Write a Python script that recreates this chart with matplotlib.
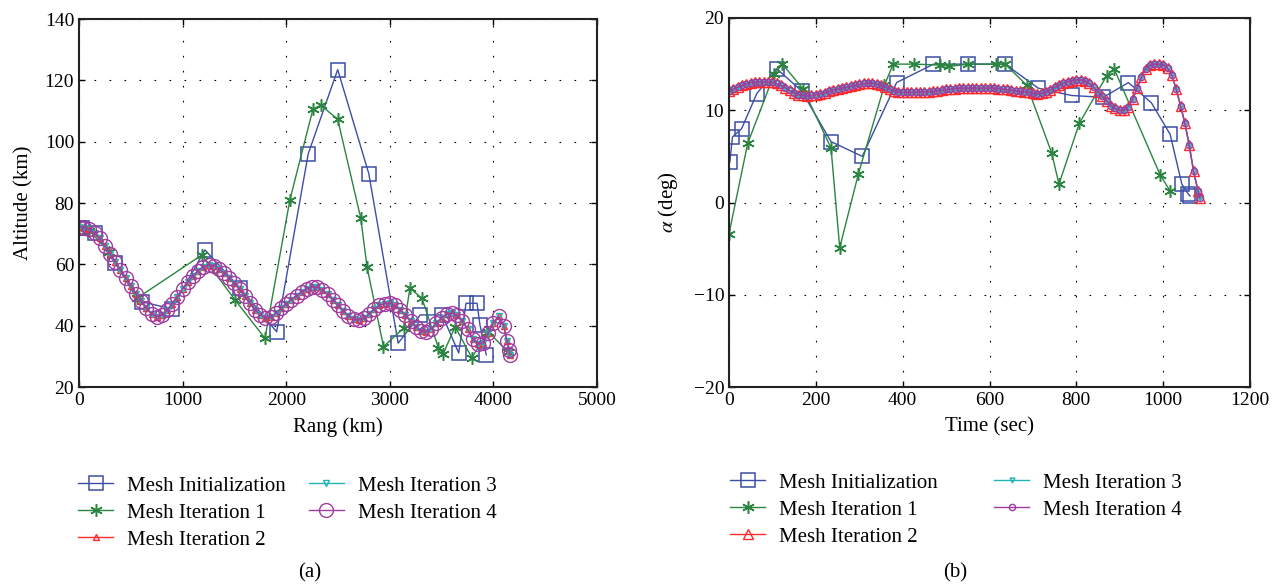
import matplotlib.pyplot as plt

plt.rcParams['font.family'] = ['Liberation Serif', 'DejaVu Serif']
plt.rcParams['mathtext.fontset'] = 'stix'

# ---- (a) altitude vs range ----
rng_init = [0, 26, 154, 347, 605, 895, 1216, 1554, 1908, 2213, 2497, 2797,
            3081, 3293, 3506, 3665, 3736, 3842, 3870, 3931]
alt_init = [72, 71.7, 70.2, 60.4, 47.8, 45.5, 64.7, 52.3, 38.0, 96.1, 123.5, 89.6,
            34.3, 43.5, 43.5, 31.1, 47.3, 47.3, 40.3, 30.5]

rng_it1 = [0, 100, 290, 557, 1184, 1506, 1795, 2036, 2259, 2337, 2497, 2720, 2780,
           2939, 3134, 3194, 3311, 3470, 3517, 3630, 3791, 3950, 4140]
alt_it1 = [72, 71, 64, 48.9, 63.0, 48.4, 35.9, 81.1, 110.7, 111.8, 107.3, 75.0, 59.2,
           33.2, 39.2, 52.2, 48.9, 32.7, 30.9, 39.7, 29.6, 38.0, 31.5]

rng_fine = [0, 50, 100, 150, 200, 250, 300, 350, 400, 450, 500, 550, 600, 650, 700,
            750, 800, 850, 900, 950, 1000, 1050, 1100, 1150, 1200, 1250, 1300, 1350,
            1400, 1450, 1500, 1550, 1600, 1650, 1700, 1750, 1800, 1850, 1900, 1950,
            2000, 2050, 2100, 2150, 2200, 2250, 2300, 2350, 2400, 2450, 2500, 2550,
            2600, 2650, 2700, 2750, 2800, 2850, 2900, 2950, 3000, 3050, 3100, 3150,
            3200, 3250, 3300, 3350, 3400, 3450, 3500, 3550, 3600, 3650, 3700, 3750,
            3800, 3850, 3900, 3950, 4000, 4050, 4100, 4130, 4150, 4160]
alt_fine = [72.3, 72.0, 71.5, 70.2, 68.5, 66.0, 63.3, 60.8, 58.3, 55.6, 53.0, 50.3,
            48.0, 45.8, 43.8, 42.9, 43.5, 45.0, 47.2, 49.5, 52.0, 54.2, 56.2, 57.9,
            59.2, 59.8, 59.6, 58.6, 57.2, 55.5, 53.8, 51.8, 49.6, 47.3, 45.2, 43.5,
            42.6, 42.8, 44.0, 45.6, 47.2, 48.5, 49.8, 51.0, 52.0, 52.6, 52.5, 51.6,
            50.2, 48.5, 46.6, 44.8, 43.2, 42.1, 41.8, 42.4, 43.8, 45.4, 46.6, 47.2,
            47.3, 46.6, 45.2, 43.4, 41.4, 39.6, 38.3, 38.0, 39.0, 40.8, 42.6, 43.8,
            44.1, 43.4, 41.5, 38.8, 35.8, 33.9, 34.5, 37.5, 41.0, 43.0, 40.0, 35.0,
            32.0, 30.4]

# ---- (b) alpha vs time ----
t_init = [2, 8, 29, 64, 110, 167, 235, 307, 386, 471, 551, 636, 712, 789, 862,
          920, 973, 1016, 1043, 1058, 1062]
a_init = [4.4, 7.1, 8.0, 11.8, 14.5, 12.1, 6.6, 5.0, 13.0, 15.0, 15.0, 15.0, 12.4,
          11.6, 11.4, 13.0, 10.8, 7.4, 2.0, 0.9, 0.7]

t_it1 = [0, 43, 104, 123, 171, 235, 255, 298, 358, 378, 427, 486, 507, 551, 614,
         636, 686, 743, 760, 807, 870, 887, 993, 1016]
a_it1 = [-3.4, 6.4, 13.9, 15.0, 12.3, 5.9, -4.9, 3.1, 12.7, 15.0, 15.0, 14.9, 14.75,
         15.0, 15.0, 15.0, 12.7, 5.4, 2.0, 8.6, 13.75, 14.5, 3.0, 1.25]

t_fine = [0, 10, 20, 30, 40, 50, 60, 70, 80, 90, 100, 110, 120, 130, 140, 150, 160,
          170, 180, 190, 200, 210, 220, 230, 240, 250, 260, 270, 280, 290, 300, 310,
          320, 330, 340, 350, 360, 370, 380, 390, 400, 410, 420, 430, 440, 450, 460,
          470, 480, 490, 500, 510, 520, 530, 540, 550, 560, 570, 580, 590, 600, 610,
          620, 630, 640, 650, 660, 670, 680, 690, 700, 710, 720, 730, 740, 750, 760,
          770, 780, 790, 800, 810, 820, 830, 840, 850, 860, 870, 880, 890, 900, 910,
          920, 930, 940, 950, 960, 970, 980, 990, 1000, 1010, 1020, 1030, 1040, 1050,
          1060, 1070, 1080, 1085]
a_fine = [12.1, 12.3, 12.5, 12.7, 12.85, 13.0, 13.05, 13.1, 13.1, 13.1, 13.05, 12.9,
          12.7, 12.45, 12.15, 11.9, 11.7, 11.6, 11.55, 11.6, 11.7, 11.8, 11.9, 12.05,
          12.2, 12.3, 12.4, 12.5, 12.6, 12.7, 12.8, 12.9, 12.95, 12.95, 12.85, 12.7,
          12.5, 12.3, 12.1, 12.0, 11.95, 11.95, 11.95, 11.95, 12.0, 12.0, 12.0, 12.05,
          12.1, 12.2, 12.25, 12.3, 12.35, 12.4, 12.4, 12.4, 12.4, 12.4, 12.4, 12.4,
          12.4, 12.4, 12.35, 12.3, 12.25, 12.2, 12.1, 12.05, 12.0, 11.95, 11.85, 11.8,
          11.85, 11.95, 12.2, 12.5, 12.75, 12.95, 13.1, 13.2, 13.3, 13.3, 13.2, 12.9,
          12.5, 12.0, 11.5, 11.0, 10.5, 10.2, 10.0, 10.05, 10.4, 11.2, 12.4, 13.6,
          14.5, 14.9, 15.0, 15.0, 14.95, 14.6, 13.8, 12.3, 10.5, 8.6, 6.2, 3.4, 1.3, 0.5]

labels = ['Mesh Initialization', 'Mesh Iteration 1', 'Mesh Iteration 2',
          'Mesh Iteration 3', 'Mesh Iteration 4']

c_blue = '#3c4ea6'
c_green = '#2a8540'
c_red = '#ff2a2a'
c_cyan = '#22b5b5'
c_mag = '#a03ca0'

W, H = 1287.0, 588.0
fig = plt.figure(figsize=(W / 100, H / 100), dpi=100)
ax1 = fig.add_axes([79 / W, 1 - 387 / H, 518 / W, 368 / H])
ax2 = fig.add_axes([729 / W, 1 - 387 / H, 521 / W, 369 / H])

star = (6, 2, 0)

# left panel
h = []
h += ax1.plot(rng_init, alt_init, color=c_blue, lw=1, marker='s', ms=10.5,
              mfc='none', mew=1.1)
h += ax1.plot(rng_it1, alt_it1, color=c_green, lw=1, marker=star, ms=9, mew=1.1)
h += ax1.plot(rng_fine, alt_fine, color=c_red, lw=1, marker='^', ms=4,
              mfc='none', mew=1)
h += ax1.plot(rng_fine, alt_fine, color=c_cyan, lw=1, marker='v', ms=4,
              mfc='none', mew=1)
h += ax1.plot(rng_fine, alt_fine, color=c_mag, lw=1, marker='o', ms=10,
              mfc='none', mew=1)

# right panel
g = []
g += ax2.plot(t_init, a_init, color=c_blue, lw=1, marker='s', ms=10.5,
              mfc='none', mew=1.1)
g += ax2.plot(t_it1, a_it1, color=c_green, lw=1, marker=star, ms=9, mew=1.1)
g += ax2.plot(t_fine, a_fine, color=c_red, lw=1, marker='^', ms=7,
              mfc='none', mew=1)
g += ax2.plot(t_fine, a_fine, color=c_cyan, lw=1, marker='v', ms=3.5,
              mfc='none', mew=1)
g += ax2.plot(t_fine, a_fine, color=c_mag, lw=1, marker='o', ms=4.5,
              mfc='none', mew=1)

for ax in (ax1, ax2):
    ax.grid(True, color='k', linestyle=(0, (1.5, 12)), lw=0.8)
    ax.tick_params(direction='in', top=True, right=True, length=4,
                   labelsize=14, width=1)
    for sp in ax.spines.values():
        sp.set_linewidth(1.5)
        sp.set_color('#222222')

ax1.set_xlim(0, 5000)
ax1.set_ylim(20, 140)
ax1.set_xticks(range(0, 5001, 1000))
ax1.set_yticks(range(20, 141, 20))
ax1.set_xlabel('Rang (km)', fontsize=15, labelpad=6)
ax1.set_ylabel('Altitude (km)', fontsize=15, labelpad=8)

ax2.set_xlim(0, 1200)
ax2.set_ylim(-20, 20)
ax2.set_xticks(range(0, 1201, 200))
ax2.set_yticks(range(-20, 21, 10))
ax2.set_xlabel('Time (sec)', fontsize=15, labelpad=6)
ax2.set_ylabel(r'$\alpha$ (deg)', fontsize=15, labelpad=10)

fig.legend(h, labels, loc='upper left', bbox_to_anchor=(78 / W, 1 - 476 / H),
           ncol=2, frameon=False, borderpad=0, borderaxespad=0, fontsize=15,
           handlelength=1.7, handletextpad=0.65, labelspacing=0.36,
           columnspacing=1.1)
fig.legend(g, labels, loc='upper left', bbox_to_anchor=(730 / W, 1 - 473 / H),
           ncol=2, frameon=False, borderpad=0, borderaxespad=0, fontsize=15,
           handlelength=1.7, handletextpad=0.65, labelspacing=0.36,
           columnspacing=2.7)

fig.text(310 / W, 1 - 573 / H, '(a)', ha='center', va='center', fontsize=15)
fig.text(955 / W, 1 - 573 / H, '(b)', ha='center', va='center', fontsize=15)

fig.savefig('out.png', dpi=100)
